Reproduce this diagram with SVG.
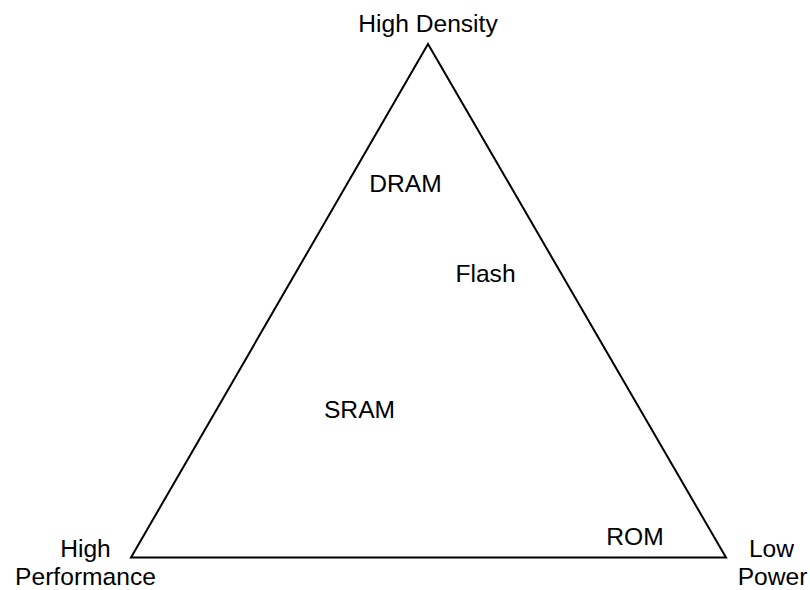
<svg xmlns="http://www.w3.org/2000/svg" width="810" height="590" viewBox="0 0 810 590">
<style>
text{font-family:"Liberation Sans",Arial,sans-serif;font-size:24.6px;fill:#000;text-anchor:middle}
.tri{fill:none;stroke:#000;stroke-width:2;stroke-linejoin:miter}
</style>
<rect width="810" height="590" fill="#fff"/>
<g id="connectors">
<polygon class="tri" points="428,44 131,557.5 726,557.5"/>
</g>
<g id="high-density"><text x="428" y="31.5">High Density</text></g>
<g id="high-performance"><text x="85.5" y="556.5">High</text><text x="85.5" y="585">Performance</text></g>
<g id="low-power"><text x="771.5" y="556.5">Low</text><text x="772.5" y="585">Power</text></g>
<g id="dram"><text x="405.5" y="191.5">DRAM</text></g>
<g id="flash"><text x="485.5" y="281.5">Flash</text></g>
<g id="sram"><text x="359.5" y="418">SRAM</text></g>
<g id="rom"><text x="635" y="545">ROM</text></g>
</svg>
